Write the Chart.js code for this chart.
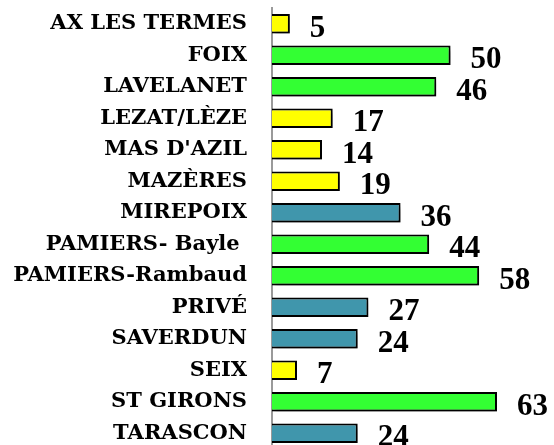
<!DOCTYPE html>
<html>
<head>
<meta charset="utf-8">
<script src="https://cdn.jsdelivr.net/npm/chart.js@4/dist/chart.umd.min.js"></script>
<style>
html,body{margin:0;padding:0;background:#fff;overflow:hidden;}
#wrap{position:absolute;left:0;top:0;width:554px;height:460px;}
</style>
</head>
<body>
<div id="wrap"><canvas id="c"></canvas></div>
<script>
const categories = ["AX LES TERMES","FOIX","LAVELANET","LEZAT/LÈZE","MAS D'AZIL","MAZÈRES","MIREPOIX","PAMIERS- Bayle ","PAMIERS-Rambaud","PRIVÉ","SAVERDUN","SEIX","ST GIRONS","TARASCON"];
const values = [5,50,46,17,14,19,36,44,58,27,24,7,63,24];
const groups = ["low","high","high","low","low","low","mid","high","high","mid","mid","low","high","mid"];
const groupColors = {low:"#FFFF00", high:"#33FF33", mid:"#4096AC"};

const shadowPlugin = {
  id:'shadow',
  beforeDatasetsDraw(chart){
    const ctx = chart.ctx;
    ctx.save();
    ctx.shadowColor = 'rgba(0,0,0,0.4)';
    ctx.shadowBlur = 5;
    ctx.shadowOffsetX = 2;
    ctx.shadowOffsetY = 4;
  },
  afterDatasetsDraw(chart){
    chart.ctx.restore();
  }
};
const labelPlugin = {
  id:'vlabels',
  afterDatasetsDraw(chart){
    const ctx = chart.ctx;
    const meta = chart.getDatasetMeta(0);
    ctx.save();
    ctx.font = 'bold 31px "Liberation Serif"';
    ctx.fillStyle = '#000';
    ctx.textAlign = 'left';
    ctx.textBaseline = 'alphabetic';
    meta.data.forEach((bar,i)=>{
      ctx.fillText(String(values[i]), bar.x + 20, bar.y + 13);
    });
    ctx.restore();
  }
};

new Chart(document.getElementById('c'), {
  type:'bar',
  data:{
    labels:categories,
    datasets:[{
      data:values,
      backgroundColor:groups.map(g=>groupColors[g]),
      borderColor:'#000',
      borderWidth:2,
      barPercentage:0.62,
      categoryPercentage:1
    }]
  },
  options:{
    indexAxis:'y',
    responsive:true,
    maintainAspectRatio:false,
    animation:false,
    layout:{padding:{top:8,bottom:11,left:0,right:32}},
    plugins:{legend:{display:false},tooltip:{enabled:false}},
    scales:{
      x:{display:false,min:0,max:70},
      y:{
        grid:{display:false,drawTicks:false},
        border:{display:true,color:'#9a9a9a',width:2},
        ticks:{autoSkip:false,padding:25,color:'#000',font:{family:'"DejaVu Serif"',weight:'bold',size:21}},
        afterFit(scale){scale.width = 272; scale.paddingTop = 0; scale.paddingBottom = 0;}
      }
    }
  },
  plugins:[shadowPlugin,labelPlugin]
});
</script>
</body>
</html>
